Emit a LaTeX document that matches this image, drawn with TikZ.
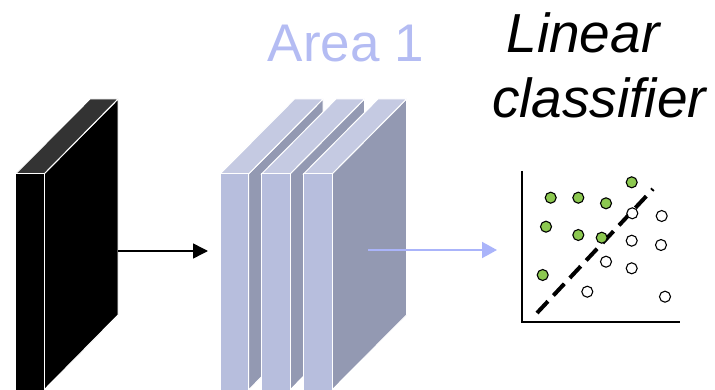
\documentclass[tikz,border=0pt]{standalone}
\usepackage{fontspec}
\setmainfont{Liberation Sans}
\usetikzlibrary{arrows.meta}
\definecolor{slabfront}{RGB}{183,190,221}
\definecolor{slabtop}{RGB}{197,202,226}
\definecolor{slabside}{RGB}{147,153,178}
\definecolor{blacktop}{RGB}{51,51,51}
\definecolor{areacol}{RGB}{180,188,243}
\definecolor{arrowblue}{RGB}{170,180,250}
\definecolor{dotgreen}{RGB}{140,200,80}
\tikzset{
  edge/.style={draw=white,line width=1pt,line join=miter},
  greendot/.style={circle,draw=black,line width=1.1pt,fill=dotgreen,minimum size=11pt,inner sep=0pt},
  whitedot/.style={circle,draw=black,line width=1.1pt,fill=white,minimum size=11pt,inner sep=0pt},
  axisline/.style={line width=2pt,black},
  sepline/.style={line width=4pt,black,dash pattern=on 16pt off 8pt},
  blackarrow/.style={line width=1.5pt,black,-{Triangle[length=15pt,width=15pt]}},
  bluearrow/.style={line width=2pt,arrowblue,-{Triangle[length=15pt,width=16pt]}},
  labeltext/.style={inner sep=0pt,anchor=base},
}
% \myslab{x}{front}{top}{side}
\newcommand\myslab[4]{%
  \path[edge,fill=#4] (#1+28.5,174) -- (#1+103,99) -- (#1+103,315) -- (#1+28.5,390) -- cycle;
  \path[edge,fill=#3] (#1,174) -- (#1+74.5,99) -- (#1+103,99) -- (#1+28.5,174) -- cycle;
  \path[edge,fill=#2] (#1,174) rectangle (#1+28.5,390);
}
\begin{document}
\begin{tikzpicture}[x=1pt,y=-1pt]
\useasboundingbox (0,0) rectangle (715,390);
% input slab
\path[edge,fill=black] (44,174) -- (118,99) -- (118,315) -- (44,390) -- cycle;
\path[edge,fill=blacktop] (15.5,174) -- (90,99) -- (118,99) -- (44,174) -- cycle;
\path[edge,fill=black] (15.5,174) rectangle (44,390);
% area 1 slabs
\myslab{220}{slabfront}{slabtop}{slabside}
\myslab{261.5}{slabfront}{slabtop}{slabside}
\myslab{303.5}{slabfront}{slabtop}{slabside}
% connector coordinates
\coordinate (inOut) at (118,251);
\coordinate (areaIn) at (208,251);
\coordinate (areaOut) at (368,250);
\coordinate (plotIn) at (497,250);
\draw[blackarrow] (inOut) -- (areaIn);
\draw[bluearrow] (areaOut) -- (plotIn);
% labels
\node[labeltext,text=areacol,font=\fontsize{53}{60}\selectfont] (area) at (346,62) {Area 1};
\node[labeltext,font=\fontsize{55}{65}\selectfont\itshape] (lin) at (583,53) {Linear};
\node[labeltext,font=\fontsize{55}{65}\selectfont\itshape] (cls) at (599,118) {classifier};
% plot
\coordinate (yTop) at (521.7,171);
\coordinate (origin) at (521.7,321.7);
\coordinate (xEnd) at (680,321.7);
\draw[axisline] (yTop) -- (origin) -- (xEnd);
\coordinate (sepA) at (537,313);
\coordinate (sepB) at (653,189);
\draw[sepline] (sepA) -- (sepB);
\foreach \px/\py [count=\i] in {631.7/182.3,550.7/197.7,578.3/197.7,606/203.3,546/226.7,578.3/235,601.7/237.7,542.7/275}
  \node[greendot] (g\i) at (\px,\py) {};
\foreach \px/\py [count=\i] in {632.3/213.3,661.7/216,631.7/240.7,661/245,606/261.7,631.7/268.3,587.3/291.7,665/296.7}
  \node[whitedot] (w\i) at (\px,\py) {};
\end{tikzpicture}
\end{document}
